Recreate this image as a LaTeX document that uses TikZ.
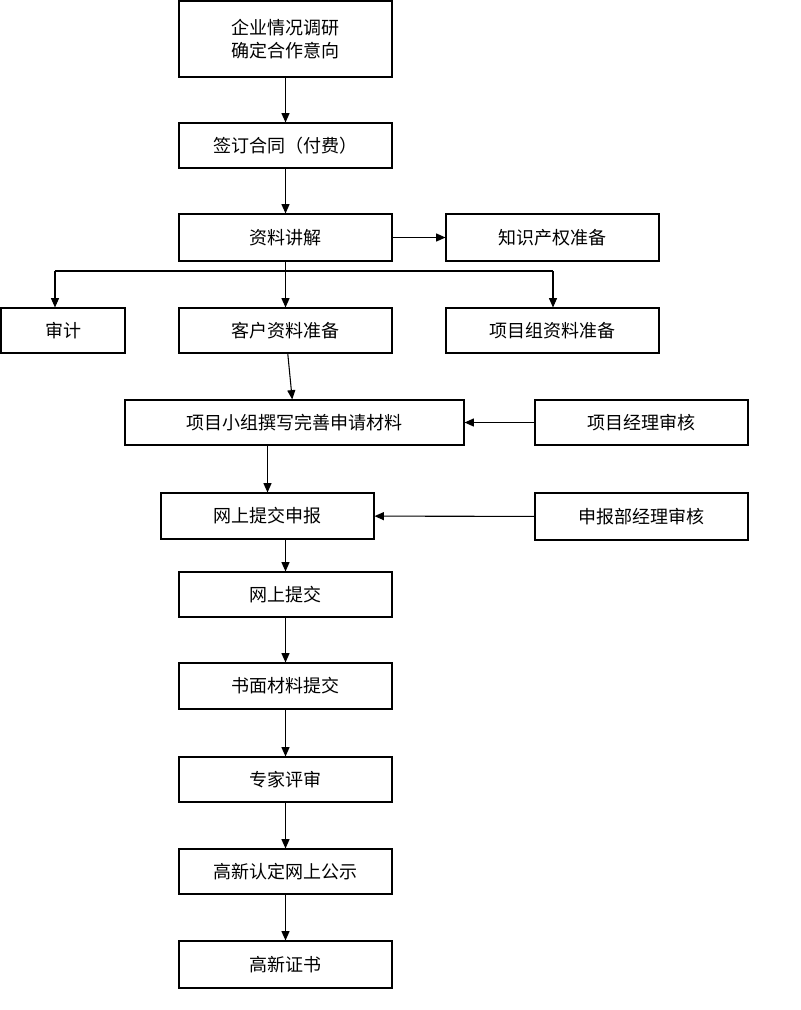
\documentclass[tikz,border=0pt]{standalone}
\usepackage{fontspec}
\setmainfont{Noto Sans CJK SC}
\usetikzlibrary{arrows.meta}
\begin{document}
\begin{tikzpicture}[x=0.75pt,y=-0.75pt,
  box/.style={draw,line width=0.8pt,inner sep=0pt,font=\fontsize{13.5}{17}\selectfont,align=center},
  arr/.style={line width=0.8pt,-{Triangle[length=7pt,width=6pt]}}]
\useasboundingbox[fill=white] (0,0) rectangle (800,1010);
\newcommand\bx[6]{\node[box,minimum width={(#4-#2)*0.75pt},minimum height={(#5-#3)*0.75pt}] (#1) at ({(#2+#4)/2},{(#3+#5)/2}) {#6};}
\bx{a}{179}{1}{392}{77}{企业情况调研\\确定合作意向}
\bx{b}{179}{123}{392}{168}{签订合同（付费）}
\bx{c}{179}{214}{392}{261}{资料讲解}
\bx{d}{446}{214}{659}{261}{知识产权准备}
\bx{e}{1}{308}{125}{353}{审计}
\bx{f}{179}{308}{392}{353}{客户资料准备}
\bx{g}{446}{308}{659}{353}{项目组资料准备}
\bx{h}{125}{400}{464}{445}{项目小组撰写完善申请材料}
\bx{i}{535}{400}{748}{445}{项目经理审核}
\bx{j}{161}{493}{374}{539}{网上提交申报}
\bx{k}{535}{493}{748}{540}{申报部经理审核}
\bx{l}{179}{572}{392}{617}{网上提交}
\bx{m}{179}{663}{392}{709}{书面材料提交}
\bx{n}{179}{757}{392}{802}{专家评审}
\bx{o}{179}{849}{392}{894}{高新认定网上公示}
\bx{p}{179}{941}{392}{988}{高新证书}
\draw[arr] (a) -- (b);
\draw[arr] (b) -- (c);
\draw[arr] (c) -- (d);
\coordinate (bl) at (55,271);
\coordinate (br) at (553,271);
\draw[line width=0.8pt] (bl) -- (br);
\draw[arr] (bl) -- (e.north -| bl);
\draw[arr] (br) -- (g.north -| br);
\draw[arr] (c) -- (f);
\draw[arr] (f) -- (h);
\draw[arr] (i) -- (h);
\draw[arr] (h.south -| j) -- (j);
\draw[arr] (k) -- (j);
\draw[arr] (j.south -| l) -- (l);
\draw[arr] (l) -- (m);
\draw[arr] (m) -- (n);
\draw[arr] (n) -- (o);
\draw[arr] (o) -- (p);
\end{tikzpicture}
\end{document}
